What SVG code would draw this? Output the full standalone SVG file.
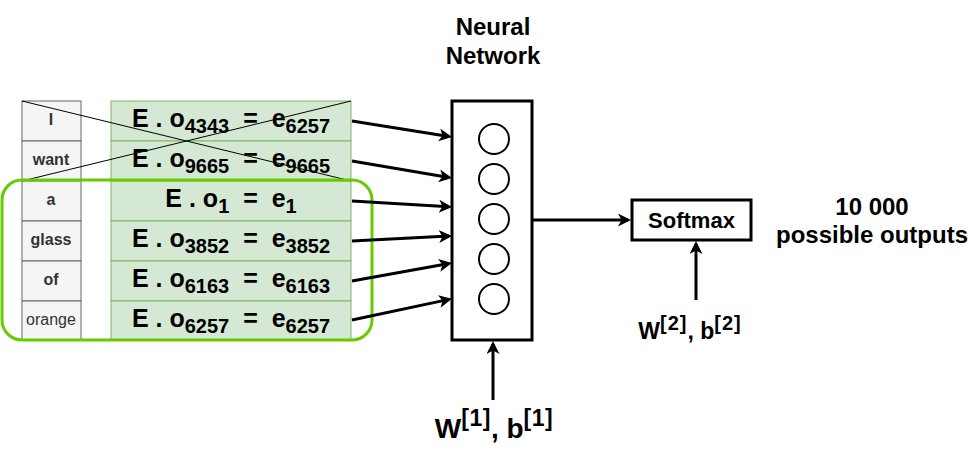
<svg xmlns="http://www.w3.org/2000/svg" width="972" height="450" viewBox="0 0 972 450">
<style>
text{font-family:"Liberation Sans",Arial,sans-serif;fill:#000}
.word{font-size:16px;font-weight:bold;fill:#333;text-anchor:middle}
.wordn{font-size:16px;fill:#333;text-anchor:middle}
.wcell{fill:#f5f5f5;stroke:#666;stroke-width:1}
.ecell{fill:#d5e8d4;stroke:#82b366;stroke-width:1}
.eq{font-size:25px;font-weight:bold;text-anchor:middle}
.sub{font-size:20px}
.lbl{font-weight:bold;text-anchor:middle}
.conn{fill:none;stroke:#000;stroke-width:3;marker-end:url(#arr)}
.neuron{fill:none;stroke:#000;stroke-width:2}
</style>
<defs>
<marker id="arr" markerUnits="userSpaceOnUse" markerWidth="16" markerHeight="16" refX="10" refY="6.5" orient="auto">
<path d="M0,0 L13,6.5 L0,13 L3.5,6.5 Z" fill="#000"/>
</marker>
</defs>
<rect width="972" height="450" fill="#fff"/>

<g id="words">
<rect class="wcell" x="22" y="101" width="59" height="40"/>
<rect class="wcell" x="22" y="141" width="59" height="40"/>
<rect class="wcell" x="22" y="181" width="59" height="40"/>
<rect class="wcell" x="22" y="221" width="59" height="40"/>
<rect class="wcell" x="22" y="261" width="59" height="40"/>
<rect class="wcell" x="22" y="301" width="59" height="39"/>
<text class="word" x="51" y="125">I</text>
<text class="word" x="51" y="165">want</text>
<text class="word" x="51" y="205">a</text>
<text class="word" x="51" y="245">glass</text>
<text class="word" x="51" y="285">of</text>
<text class="wordn" x="51" y="325">orange</text>
</g>

<g id="embeddings">
<rect class="ecell" x="111" y="101" width="240" height="40"/>
<rect class="ecell" x="111" y="141" width="240" height="40"/>
<rect class="ecell" x="111" y="181" width="240" height="40"/>
<rect class="ecell" x="111" y="221" width="240" height="40"/>
<rect class="ecell" x="111" y="261" width="240" height="40"/>
<rect class="ecell" x="111" y="301" width="240" height="39"/>
<text class="eq" x="231" y="127">E . o<tspan class="sub" dy="6">4343</tspan><tspan dy="-6">&#160;&#160;=&#160;&#160;e</tspan><tspan class="sub" dy="6">6257</tspan></text>
<text class="eq" x="231" y="167">E . o<tspan class="sub" dy="6">9665</tspan><tspan dy="-6">&#160;&#160;=&#160;&#160;e</tspan><tspan class="sub" dy="6">9665</tspan></text>
<text class="eq" x="231" y="207">E . o<tspan class="sub" dy="6">1</tspan><tspan dy="-6">&#160;&#160;=&#160;&#160;e</tspan><tspan class="sub" dy="6">1</tspan></text>
<text class="eq" x="231" y="247">E . o<tspan class="sub" dy="6">3852</tspan><tspan dy="-6">&#160;&#160;=&#160;&#160;e</tspan><tspan class="sub" dy="6">3852</tspan></text>
<text class="eq" x="231" y="287">E . o<tspan class="sub" dy="6">6163</tspan><tspan dy="-6">&#160;&#160;=&#160;&#160;e</tspan><tspan class="sub" dy="6">6163</tspan></text>
<text class="eq" x="231" y="327">E . o<tspan class="sub" dy="6">6257</tspan><tspan dy="-6">&#160;&#160;=&#160;&#160;e</tspan><tspan class="sub" dy="6">6257</tspan></text>
</g>

<g id="crossout">
<line x1="22" y1="101" x2="351" y2="181" stroke="#000" stroke-width="1"/>
<line x1="22" y1="181" x2="351" y2="101" stroke="#000" stroke-width="1"/>
</g>

<g id="context-window">
<rect x="2" y="180" width="370" height="160" rx="20" ry="20" fill="none" stroke="#66cc00" stroke-width="3"/>
</g>

<g id="neural-network">
<rect x="452" y="101" width="80" height="239" fill="#fff" stroke="#000" stroke-width="3"/>
<circle class="neuron" cx="494" cy="139" r="15"/>
<circle class="neuron" cx="494" cy="179" r="15"/>
<circle class="neuron" cx="494" cy="219" r="15"/>
<circle class="neuron" cx="494" cy="259" r="15"/>
<circle class="neuron" cx="494" cy="299" r="15"/>
<text class="lbl" x="493" y="35" font-size="24">Neural</text>
<text class="lbl" x="493" y="64" font-size="24">Network</text>
</g>

<g id="softmax">
<rect x="632" y="200" width="119" height="40" fill="#fff" stroke="#000" stroke-width="3"/>
<text class="lbl" x="691.5" y="228" font-size="22">Softmax</text>
</g>

<g id="outputs">
<text class="lbl" x="872" y="215" font-size="24">10 000</text>
<text class="lbl" x="872" y="243" font-size="24">possible outputs</text>
</g>

<g id="params1">
<text class="lbl" x="494" y="438" font-size="28">W<tspan font-size="23" dy="-12" letter-spacing="0.5">[1]</tspan><tspan dy="12">, b</tspan><tspan font-size="23" dy="-12" letter-spacing="0.5">[1]</tspan></text>
</g>

<g id="params2">
<text class="lbl" x="690" y="339" font-size="23">W<tspan font-size="20" dy="-9" letter-spacing="1">[2]</tspan><tspan dy="9">, b</tspan><tspan font-size="20" dy="-9" letter-spacing="1">[2]</tspan></text>
</g>

<g id="connectors">
<path class="conn" d="M352,121 L449,136.5"/>
<path class="conn" d="M352,161 L449,177.5"/>
<path class="conn" d="M352,201 L449,206.8"/>
<path class="conn" d="M352,241 L449,236.1"/>
<path class="conn" d="M352,281 L449,263.5"/>
<path class="conn" d="M352,320 L449,299.4"/>
<path class="conn" d="M533,220 L628,220"/>
<path class="conn" d="M696,300 L696,244"/>
<path class="conn" d="M493,400 L493,344"/>
</g>
</svg>
